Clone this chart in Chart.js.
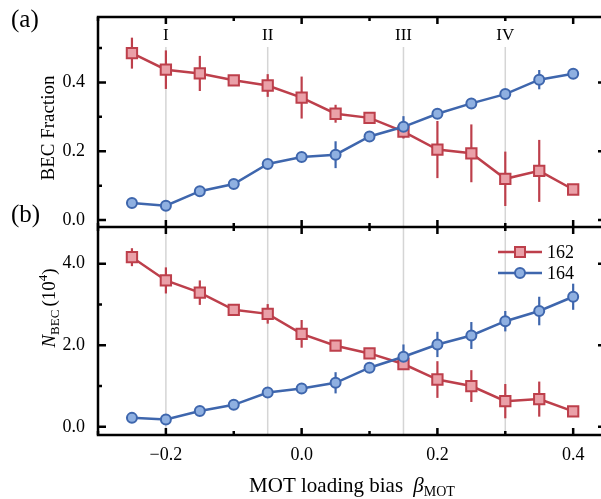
<!DOCTYPE html>
<html>
<head>
<meta charset="utf-8">
<script src="https://cdn.jsdelivr.net/npm/chart.js@4.4.0/dist/chart.umd.min.js"></script>
<style>
  html, body { margin: 0; padding: 0; background: #fff; overflow: hidden; }
  #wrap { width: 601px; height: 499px; position: relative; }
</style>
</head>
<body>
<div id="wrap"><canvas id="myChart" width="601" height="499"></canvas></div>
<script>
// MOT loading bias values (shared x)
const betaMOT = [-0.25, -0.2, -0.15, -0.1, -0.05, 0.0, 0.05, 0.1, 0.15, 0.2, 0.25, 0.3, 0.35, 0.4];

// panel (a): BEC fraction
const frac162    = [0.485, 0.437, 0.426, 0.406, 0.391, 0.356, 0.309, 0.297, 0.257, 0.205, 0.194, 0.120, 0.143, 0.089];
const frac162Err = [0.045, 0.056, 0.051, 0.006, 0.033, 0.061, 0.026, 0.016, 0.020, 0.083, 0.084, 0.079, 0.090, 0.006];
const frac164    = [0.050, 0.042, 0.084, 0.105, 0.163, 0.183, 0.190, 0.243, 0.271, 0.309, 0.339, 0.366, 0.408, 0.425];
const frac164Err = [0.005, 0.005, 0.006, 0.006, 0.006, 0.006, 0.039, 0.006, 0.031, 0.006, 0.006, 0.006, 0.028, 0.006];

// panel (b): N_BEC in units of 10^4
const n162    = [4.16, 3.59, 3.29, 2.87, 2.77, 2.28, 1.99, 1.80, 1.54, 1.16, 1.00, 0.63, 0.68, 0.38];
const n162Err = [0.22, 0.32, 0.30, 0.05, 0.24, 0.34, 0.05, 0.05, 0.08, 0.45, 0.39, 0.42, 0.43, 0.05];
const n164    = [0.22, 0.18, 0.39, 0.54, 0.84, 0.94, 1.08, 1.45, 1.72, 2.02, 2.24, 2.59, 2.84, 3.19];
const n164Err = [0.05, 0.05, 0.05, 0.06, 0.08, 0.06, 0.26, 0.06, 0.30, 0.31, 0.33, 0.25, 0.35, 0.32];

// ticks
const xTicks = [-0.2, 0.0, 0.2, 0.4];
const xMinor = [-0.3, -0.1, 0.1, 0.3];
const fracTicks = [0.0, 0.2, 0.4];
const fracMinor = [0.1, 0.3, 0.5];
const nTicks = [0.0, 2.0, 4.0];
const nMinor = [1.0, 3.0];

// marked regions
const regionX = [-0.2, -0.05, 0.15, 0.3];
const regionLabels = ['I', 'II', 'III', 'IV'];

const seriesLabels = ['162', '164'];

const serif = "'Liberation Serif', 'Times New Roman', serif";
const red = '#bd3f4b', redFill = '#eaa0a8';
const blue = '#3e66ad', blueFill = '#8fb0e1';

const pts = (xs, ys) => xs.map((x, i) => ({ x: x, y: ys[i] }));

function richText(ctx, parts, cx, baseY) {
  let total = 0;
  parts.forEach(p => { ctx.font = p.font; p.w = ctx.measureText(p.t).width; total += p.w + (p.gap || 0); });
  let x = cx - total / 2;
  ctx.textAlign = 'left';
  ctx.textBaseline = 'alphabetic';
  parts.forEach(p => {
    ctx.font = p.font;
    ctx.fillText(p.t, x, baseY + (p.dy || 0));
    x += p.w + (p.gap || 0);
  });
}

const panelPlugin = {
  id: 'panels',
  beforeDatasetsDraw(chart) {
    const { ctx, chartArea, scales } = chart;
    const x = scales.x, yA = scales.yFrac;
    ctx.save();
    ctx.strokeStyle = '#d5d5d5';
    ctx.lineWidth = 1.5;
    regionX.forEach(v => {
      const px = x.getPixelForValue(v);
      ctx.beginPath();
      ctx.moveTo(px, yA.top + 30);
      ctx.lineTo(px, chartArea.bottom);
      ctx.stroke();
    });
    ctx.fillStyle = '#000';
    ctx.font = '17px ' + serif;
    ctx.textAlign = 'center';
    ctx.textBaseline = 'middle';
    regionX.forEach((v, i) => ctx.fillText(regionLabels[i], x.getPixelForValue(v), yA.top + 19));

    // error bars
    chart.data.datasets.forEach(ds => {
      const sc = scales[ds.yAxisID];
      ctx.strokeStyle = ds.borderColor;
      ctx.lineWidth = 2.2;
      ds.data.forEach((p, i) => {
        const e = ds.errors[i];
        const px = x.getPixelForValue(p.x);
        ctx.beginPath();
        ctx.moveTo(px, sc.getPixelForValue(p.y - e));
        ctx.lineTo(px, sc.getPixelForValue(p.y + e));
        ctx.stroke();
      });
    });
    ctx.restore();
  },
  afterDatasetsDraw(chart) {
    const { ctx, chartArea, scales } = chart;
    const x = scales.x, yA = scales.yFrac, yB = scales.yN;
    const L = chartArea.left, R = chartArea.right, T = chartArea.top, B = chartArea.bottom;
    const mid = yA.bottom;
    const rightAxis = R + 5; // right frame sits just outside the visible canvas
    ctx.save();
    ctx.strokeStyle = '#000';
    ctx.lineWidth = 2.5;
    ctx.lineCap = 'butt';
    // frame
    ctx.beginPath();
    ctx.moveTo(L, T); ctx.lineTo(R, T);
    ctx.moveTo(L, mid); ctx.lineTo(R, mid);
    ctx.moveTo(L, B); ctx.lineTo(R, B);
    ctx.moveTo(L, T - 1.25); ctx.lineTo(L, B + 1.25);
    ctx.stroke();

    // x ticks
    const xt = (v, len) => {
      const px = x.getPixelForValue(v);
      ctx.beginPath();
      ctx.moveTo(px, T); ctx.lineTo(px, T + len);
      ctx.moveTo(px, mid - len); ctx.lineTo(px, mid + len);
      ctx.moveTo(px, B); ctx.lineTo(px, B - len);
      ctx.stroke();
    };
    xTicks.forEach(v => xt(v, 7));
    xMinor.forEach(v => xt(v, 4));
    // y ticks
    const yt = (sc, v, len) => {
      const py = sc.getPixelForValue(v);
      ctx.beginPath();
      ctx.moveTo(L, py); ctx.lineTo(L + len, py);
      ctx.moveTo(rightAxis, py); ctx.lineTo(rightAxis - len, py);
      ctx.stroke();
    };
    fracTicks.forEach(v => yt(yA, v, 8));
    fracMinor.forEach(v => yt(yA, v, 4));
    nTicks.forEach(v => yt(yB, v, 8));
    nMinor.forEach(v => yt(yB, v, 4));

    // legend
    const items = [
      { label: seriesLabels[0], color: red, fill: redFill, style: 'rect' },
      { label: seriesLabels[1], color: blue, fill: blueFill, style: 'circle' }
    ];
    items.forEach((it, i) => {
      const ly = 252 + i * 21;
      ctx.strokeStyle = it.color;
      ctx.lineWidth = 2.5;
      ctx.beginPath(); ctx.moveTo(498, ly); ctx.lineTo(542, ly); ctx.stroke();
      ctx.fillStyle = it.fill;
      ctx.lineWidth = 2;
      ctx.beginPath();
      if (it.style === 'rect') ctx.rect(520 - 5, ly - 5, 10, 10);
      else ctx.arc(520, ly, 5, 0, Math.PI * 2);
      ctx.fill(); ctx.stroke();
      ctx.fillStyle = '#000';
      ctx.font = '18px ' + serif;
      ctx.textAlign = 'left';
      ctx.textBaseline = 'middle';
      ctx.fillText(it.label, 547, ly + 1);
    });

    // panel labels
    ctx.fillStyle = '#000';
    ctx.font = '25px ' + serif;
    ctx.textAlign = 'left';
    ctx.textBaseline = 'alphabetic';
    ctx.fillText('(a)', 11, 27);
    ctx.fillText('(b)', 11, 222);

    // x title
    const big = '21px ' + serif, small = '14px ' + serif;
    richText(ctx, [
      { t: 'MOT loading bias ', font: big, gap: 5 },
      { t: '\u03B2', font: 'italic ' + big },
      { t: 'MOT', font: small, dy: 4 }
    ], 352, 492);

    // y titles
    ctx.save();
    ctx.translate(54, 128);
    ctx.rotate(-Math.PI / 2);
    richText(ctx, [{ t: 'BEC Fraction', font: '19px ' + serif }], 0, 0);
    ctx.restore();

    ctx.save();
    ctx.translate(55, 308);
    ctx.rotate(-Math.PI / 2);
    richText(ctx, [
      { t: 'N', font: 'italic 19px ' + serif },
      { t: 'BEC', font: '13px ' + serif, dy: 4, gap: 3 },
      { t: '(10', font: '19px ' + serif },
      { t: '4', font: '13px ' + serif, dy: -8 },
      { t: ')', font: '19px ' + serif }
    ], 0, 0);
    ctx.restore();

    ctx.restore();
  }
};

const tickFont = { family: serif, size: 18 };

const ctx = document.getElementById('myChart').getContext('2d');
new Chart(ctx, {
  type: 'line',
  data: {
    datasets: [
      { label: seriesLabels[0], data: pts(betaMOT, frac162), errors: frac162Err, yAxisID: 'yFrac',
        borderColor: red, backgroundColor: redFill, pointStyle: 'rect', pointRadius: 7.3, pointBorderWidth: 2, borderWidth: 2.5, order: 2 },
      { label: seriesLabels[1], data: pts(betaMOT, frac164), errors: frac164Err, yAxisID: 'yFrac',
        borderColor: blue, backgroundColor: blueFill, pointStyle: 'circle', pointRadius: 5, pointBorderWidth: 2, borderWidth: 2.5, order: 1 },
      { label: seriesLabels[0], data: pts(betaMOT, n162), errors: n162Err, yAxisID: 'yN',
        borderColor: red, backgroundColor: redFill, pointStyle: 'rect', pointRadius: 7.3, pointBorderWidth: 2, borderWidth: 2.5, order: 2 },
      { label: seriesLabels[1], data: pts(betaMOT, n164), errors: n164Err, yAxisID: 'yN',
        borderColor: blue, backgroundColor: blueFill, pointStyle: 'circle', pointRadius: 5, pointBorderWidth: 2, borderWidth: 2.5, order: 1 }
    ]
  },
  options: {
    responsive: false,
    animation: false,
    events: [],
    layout: { autoPadding: false, padding: { top: 17, left: 0, right: 0, bottom: 0 } },
    plugins: { legend: { display: false }, tooltip: { enabled: false } },
    scales: {
      x: {
        type: 'linear', min: -0.3, max: 0.441,
        grid: { display: false, drawTicks: false }, border: { display: false },
        afterBuildTicks: s => { s.ticks = xTicks.map(v => ({ value: v })); },
        afterFit: s => { s.height = 64; s.paddingLeft = 0; s.paddingRight = 0; },
        ticks: { padding: 9, color: '#000', font: tickFont,
          callback: v => (v < -1e-9 ? '\u2212' : '') + Math.abs(v).toFixed(1) }
      },
      yN: {
        type: 'linear', position: 'left', stack: 'panels', stackWeight: 208,
        min: -0.2, max: 4.9,
        grid: { display: false, drawTicks: false }, border: { display: false },
        afterBuildTicks: s => { s.ticks = nTicks.map(v => ({ value: v })); },
        afterFit: s => { s.width = 98; s.paddingTop = 0; s.paddingBottom = 0; },
        ticks: { padding: 13, color: '#000', font: tickFont, callback: v => v.toFixed(1) }
      },
      yFrac: {
        type: 'linear', position: 'left', stack: 'panels', stackWeight: 210,
        min: -0.02, max: 0.59,
        grid: { display: false, drawTicks: false }, border: { display: false },
        afterBuildTicks: s => { s.ticks = fracTicks.map(v => ({ value: v })); },
        afterFit: s => { s.width = 98; s.paddingTop = 0; s.paddingBottom = 0; },
        ticks: { padding: 13, color: '#000', font: tickFont, callback: v => v.toFixed(1) }
      }
    }
  },
  plugins: [panelPlugin]
});
</script>
</body>
</html>
